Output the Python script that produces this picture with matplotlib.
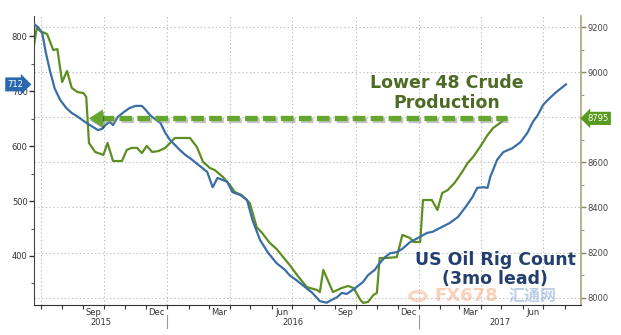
import matplotlib
matplotlib.use("Agg")
import matplotlib.pyplot as plt
import matplotlib.dates as mdates
import matplotlib.patheffects as pe
import matplotlib.transforms as mtransforms
from matplotlib.patches import Circle
import pandas as pd

# ---------------- data ----------------
# US oil rig count, shifted forward 3 months (left axis)
rig_dates = [
    "2015-06-21", "2015-06-27", "2015-07-03", "2015-07-08", "2015-07-14", "2015-07-21",
    "2015-07-29", "2015-08-07", "2015-08-15", "2015-08-24", "2015-09-03", "2015-09-13",
    "2015-09-22", "2015-09-28", "2015-10-03", "2015-10-09", "2015-10-14", "2015-10-21",
    "2015-10-30", "2015-11-07", "2015-11-16", "2015-11-25", "2015-12-01", "2015-12-07",
    "2015-12-14", "2015-12-22", "2015-12-29", "2016-01-05", "2016-01-12", "2016-01-19",
    "2016-01-27", "2016-02-03", "2016-02-10", "2016-02-17", "2016-02-28", "2016-03-07",
    "2016-03-14", "2016-03-28", "2016-04-05", "2016-04-16", "2016-04-26", "2016-05-04",
    "2016-05-15", "2016-05-26", "2016-06-08", "2016-06-20", "2016-06-27", "2016-07-08",
    "2016-07-19", "2016-07-30", "2016-08-10", "2016-08-20", "2016-08-27", "2016-09-04",
    "2016-09-11", "2016-09-18", "2016-09-23", "2016-10-03", "2016-10-12", "2016-10-19",
    "2016-10-29", "2016-11-05", "2016-11-13", "2016-11-20", "2016-11-30", "2016-12-08",
    "2016-12-19", "2016-12-31", "2017-01-13", "2017-01-21", "2017-02-04", "2017-02-15",
    "2017-02-27", "2017-03-10", "2017-03-20", "2017-03-27", "2017-04-05", "2017-04-11",
    "2017-04-15", "2017-04-25", "2017-05-04", "2017-05-17", "2017-05-29", "2017-06-08",
    "2017-06-16", "2017-06-23", "2017-07-01", "2017-07-08", "2017-07-18", "2017-07-26",
    "2017-08-03",
]
rig_count = [
    822, 816, 805, 771, 738, 705,
    684, 669, 660, 653, 644, 636,
    629, 631, 638, 644, 638, 653,
    662, 669, 673, 673, 665, 656,
    649, 642, 624, 611, 602, 593,
    584, 578, 571, 564, 553, 525,
    542, 535, 516, 511, 502, 465,
    429, 407, 387, 375, 365, 355,
    344, 333, 318, 315, 320, 325,
    333, 331, 335, 344, 353, 365,
    375, 387, 398, 405, 407, 413,
    425, 433, 442, 444, 453, 460,
    471, 489, 507, 524, 525, 524,
    544, 575, 589, 596, 607, 624,
    644, 656, 675, 684, 696, 704,
    712,
]

# Lower 48 crude production, kb/d (right axis)
prod_dates = [
    "2015-06-21", "2015-06-25", "2015-06-30", "2015-07-10", "2015-07-19", "2015-07-25",
    "2015-08-01", "2015-08-08", "2015-08-15", "2015-08-23", "2015-09-01", "2015-09-05",
    "2015-09-09", "2015-09-18", "2015-09-30", "2015-10-06", "2015-10-14", "2015-10-27",
    "2015-11-03", "2015-11-10", "2015-11-18", "2015-11-25", "2015-12-02", "2015-12-10",
    "2015-12-19", "2015-12-29", "2016-01-05", "2016-01-12", "2016-01-22", "2016-02-03",
    "2016-02-13", "2016-02-22", "2016-03-03", "2016-03-10", "2016-03-22", "2016-04-01",
    "2016-04-08", "2016-04-18", "2016-04-30", "2016-05-10", "2016-05-18", "2016-05-29",
    "2016-06-08", "2016-06-27", "2016-07-09", "2016-07-22", "2016-08-06", "2016-08-10",
    "2016-08-15", "2016-08-29", "2016-09-11", "2016-09-20", "2016-09-28", "2016-10-08",
    "2016-10-12", "2016-10-19", "2016-10-27", "2016-11-01", "2016-11-05", "2016-11-15",
    "2016-11-30", "2016-12-08", "2016-12-19", "2016-12-24", "2017-01-03", "2017-01-07",
    "2017-01-20", "2017-01-28", "2017-02-04", "2017-02-12", "2017-02-22", "2017-03-05",
    "2017-03-13", "2017-03-21", "2017-03-31", "2017-04-11", "2017-04-19", "2017-04-29",
    "2017-05-07",
]
prod_values = [
    9120, 9196, 9182, 9169, 9098, 9102,
    8956, 9005, 8930, 8912, 8907, 8890,
    8686, 8646, 8633, 8686, 8606, 8606,
    8655, 8664, 8664, 8641, 8673, 8646,
    8650, 8664, 8686, 8708, 8708, 8708,
    8668, 8602, 8575, 8566, 8535, 8500,
    8469, 8455, 8420, 8313, 8287, 8243,
    8216, 8145, 8096, 8047, 8034, 8025,
    8123, 8025, 8043, 8052, 8043, 7990,
    7977, 7981, 8012, 8021, 8176, 8176,
    8180, 8278, 8265, 8247, 8247, 8433,
    8433, 8389, 8464, 8477, 8509, 8557,
    8597, 8624, 8668, 8721, 8752, 8774,
    8795,
]

left_ticks = [400, 500, 600, 700, 800]
left_minor = [350, 450, 550, 650, 750]
right_ticks = [8000, 8200, 8400, 8600, 8800, 9000, 9200]
right_minor = [8100, 8300, 8500, 8700, 8900, 9100]
month_labels = ["Sep", "Dec", "Mar", "Jun", "Sep", "Dec", "Mar", "Jun"]
month_label_dates = ["2015-09-16", "2015-12-16", "2016-03-16", "2016-06-16",
                     "2016-09-16", "2016-12-16", "2017-03-16", "2017-06-16"]
quarter_lines = ["2015-07-01", "2015-10-01", "2016-01-01", "2016-04-01", "2016-07-01",
                 "2016-10-01", "2017-01-01", "2017-04-01", "2017-07-01"]
year_labels = ["2015", "2016", "2017"]
year_bounds = ["2016-01-01", "2017-01-01"]
x_start, x_end = "2015-06-21", "2017-08-25"

BLUE = "#3a6ea6"
GREEN = "#5e8e22"
ARROW_GREEN = "#66a62e"

# ---------------- figure ----------------
W, H = 621, 335
fig = plt.figure(figsize=(W / 100, H / 100), dpi=100)
L, R, T, B = 34, 581, 16, 305
ax = fig.add_axes([L / W, 1 - B / H, (R - L) / W, (B - T) / H])
ax2 = ax.twinx()
ax.set_zorder(ax2.get_zorder() + 1)
ax.patch.set_visible(False)

xs = mdates.date2num(pd.to_datetime([x_start, x_end]))
ax.set_xlim(xs[0], xs[1])
ax.set_ylim(310.9, 836.4)
ax2.set_ylim(7967.6, 9248.8)

# grid
for v in right_ticks:
    ax2.axhline(v, color="#bdbdbd", lw=0.8, ls=(0, (1.2, 2.2)), zorder=0)
for d in pd.to_datetime(quarter_lines):
    ax2.axvline(mdates.date2num(d), color="#bdbdbd", lw=0.8, ls=(0, (1.2, 2.2)), zorder=0)

# series
ax2.plot(pd.to_datetime(prod_dates), prod_values, color=GREEN, lw=1.6, zorder=3)
ax.plot(pd.to_datetime(rig_dates), rig_count, color=BLUE, lw=1.6, zorder=3)

# spines
for s in ["top"]:
    ax.spines[s].set_visible(False)
    ax2.spines[s].set_visible(False)
ax.spines["right"].set_visible(False)
ax2.spines["left"].set_visible(False)
ax2.spines["bottom"].set_visible(False)
ax.spines["left"].set_color("#444444")
ax.spines["bottom"].set_color("#333333")
ax2.spines["right"].set_color("#aaa67a")
ax2.spines["right"].set_linewidth(1.2)

# left ticks
ax.set_yticks(left_ticks)
ax.set_yticks(left_minor, minor=True)
ax.tick_params(axis="y", which="major", length=3.5, width=1, color="#333333",
               labelsize=6, labelcolor="#333333", pad=1)
ax.tick_params(axis="y", which="minor", length=2, width=0.8, color="#555555")

# right ticks
ax2.set_yticks(right_ticks)
ax2.set_yticks(right_minor, minor=True)
ax2.tick_params(axis="y", which="major", length=3.5, width=1, color="#888866",
                labelsize=6, labelcolor="#444444", pad=1)
ax2.tick_params(axis="y", which="minor", length=2, width=0.8, color="#999977")

# x ticks: month boundaries as ticks, month names centred on months
ax.xaxis.set_major_locator(mdates.MonthLocator())
ax.xaxis.set_major_formatter(plt.NullFormatter())
ax.xaxis.set_minor_locator(plt.FixedLocator(mdates.date2num(pd.to_datetime(month_label_dates))))
ax.xaxis.set_minor_formatter(plt.FixedFormatter(month_labels))
ax.tick_params(axis="x", which="major", length=3, width=0.8, color="#333333")
ax.tick_params(axis="x", which="minor", length=0, pad=2, labelsize=6, labelcolor="#333333")

# year labels + separators
trans = mtransforms.blended_transform_factory(ax.transData, ax.transAxes)
bounds = [xs[0]] + list(mdates.date2num(pd.to_datetime(year_bounds))) + [xs[1]]
for i, lab in enumerate(year_labels):
    ax.text((bounds[i] + bounds[i + 1]) / 2, -0.059, lab, transform=trans,
            ha="center", va="center", fontsize=6, color="#333333")
for b in bounds[1:-1]:
    ax.plot([b, b], [-0.035, -0.078], transform=trans, color="#999999",
            lw=0.8, clip_on=False)

# dashed arrow at the latest production level
a_trans = ax2.transData
shadow = [pe.SimpleLineShadow(offset=(1, -1.5), shadow_color="#8a8a8a", alpha=0.5), pe.Normal()]
x_arrow0 = mdates.date2num(pd.Timestamp("2015-09-27"))
x_arrow1 = mdates.date2num(pd.to_datetime(prod_dates[-1])) + 2
ax.plot([x_arrow0, x_arrow1], [prod_values[-1]] * 2, transform=a_trans,
        color=ARROW_GREEN, lw=3.8, ls=(0, (2.4, 1.0)), dash_capstyle="butt",
        path_effects=shadow, zorder=5)
ax.annotate("", xy=(mdates.date2num(pd.Timestamp("2015-09-09")), prod_values[-1]),
            xycoords=a_trans,
            xytext=(mdates.date2num(pd.Timestamp("2015-09-29")), prod_values[-1]),
            textcoords=a_trans,
            arrowprops=dict(arrowstyle="-|>,head_length=0.5,head_width=0.32",
                            mutation_scale=20, color=ARROW_GREEN, lw=0,
                            shrinkA=0, shrinkB=0,
                            path_effects=[pe.SimplePatchShadow(offset=(1, -1.5), alpha=0.4),
                                          pe.Normal()]),
            zorder=5)

# annotations
ax.text(0.754, 0.751, "Lower 48 Crude", transform=ax.transAxes, ha="center",
        va="baseline", fontsize=12.5, fontweight="bold", color="#4d6b24", zorder=6)
ax.text(0.754, 0.682, "Production", transform=ax.transAxes, ha="center",
        va="baseline", fontsize=12.5, fontweight="bold", color="#4d6b24", zorder=6)
ax.text(0.8437, 0.138, "US Oil Rig Count", transform=ax.transAxes, ha="center",
        va="baseline", fontsize=12.5, fontweight="bold", color="#233f6e", zorder=6)
ax.text(0.8428, 0.073, "(3mo lead)", transform=ax.transAxes, ha="center",
        va="baseline", fontsize=12.5, fontweight="bold", color="#233f6e", zorder=6)

# last value tags
tl = mtransforms.blended_transform_factory(ax.transAxes, ax.transData)
ax.text(-0.019, rig_count[-1], str(rig_count[-1]), transform=tl, ha="right", va="center",
        fontsize=6, color="white", clip_on=False, zorder=7,
        bbox=dict(boxstyle="rarrow,pad=0.3", fc="#2a68ad", ec="none"))
tr = mtransforms.blended_transform_factory(ax.transAxes, ax2.transData)
ax.text(1.012, prod_values[-1], str(prod_values[-1]), transform=tr, ha="left", va="center",
        fontsize=6, color="white", clip_on=False, zorder=7,
        bbox=dict(boxstyle="larrow,pad=0.25", fc="#5a9a1e", ec="none"))

# watermark (faint)
fig.patches.append(Circle((418 / W, 1 - 296 / H), 8 / W, transform=fig.transFigure,
                          fill=False, ec="#f2b08a", lw=2.5, alpha=0.5))
fig.text(466 / W, 1 - 296 / H, "FX678", ha="center", va="center", fontsize=13,
         fontweight="bold", family=["Liberation Sans Narrow", "DejaVu Sans"],
         color="#f4a274", alpha=0.5)
fig.text(533 / W, 1 - 296 / H, "汇通网", ha="center", va="center", fontsize=11.5,
         fontweight="bold", family=["Noto Sans CJK SC", "DejaVu Sans"],
         color="#7d9ed4", alpha=0.5)

fig.savefig("out.png", dpi=100)
